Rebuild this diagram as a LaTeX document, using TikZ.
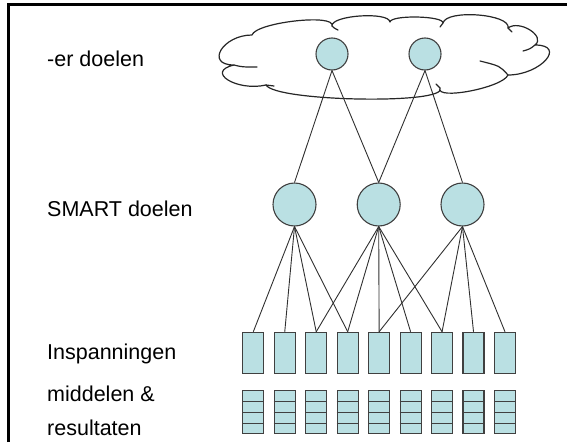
\documentclass[tikz,border=0pt]{standalone}
\usepackage{fontspec}
\setmainfont{Liberation Sans}
\usetikzlibrary{calc}
\definecolor{boxc}{HTML}{BAE0E3}
\definecolor{edgec}{HTML}{404040}
\definecolor{linkc}{HTML}{303030}
\begin{document}
\begin{tikzpicture}[x=1pt,y=-1pt,
  shapeline/.style={fill=boxc, draw=edgec, line width=1.1pt},
  topgoal/.style={circle, shapeline, inner sep=0pt, minimum size=32pt},
  smartgoal/.style={circle, shapeline, inner sep=0pt, minimum size=43pt},
  inspbox/.style={rectangle, shapeline, inner sep=0pt, minimum width=21pt, minimum height=41pt},
  resbox/.style={rectangle, shapeline, inner sep=0pt, minimum width=21pt, minimum height=43pt},
  link/.style={draw=linkc, line width=0.9pt},
  cloudline/.style={draw=black!85, line width=1.2pt, line join=round, line cap=round},
  lbl/.style={anchor=base west, inner sep=0pt, font=\fontsize{21.5}{26}\selectfont}
]
\useasboundingbox (0,0) rectangle (567,442);
% frame
\draw[line width=3pt] (8,442) -- (8,4) -- (567,4);

% cloud outline
\draw[cloudline, fill=white]
  (234,65) .. controls (204.7,65) and (222.7,35) .. (252,35)
  .. controls (256,22.3) and (336,13.3) .. (332,26)
  .. controls (330.7,15.3) and (388.7,11.3) .. (390,22)
  .. controls (390.7,14.7) and (443.7,15.7) .. (443,23)
  .. controls (446.3,9) and (511.3,14) .. (508,28)
  .. controls (519.3,19.3) and (546.3,36.3) .. (535,45)
  .. controls (567,45) and (540.7,75) .. (508,75)
  .. controls (502.7,87.7) and (434.7,100.7) .. (440,88)
  .. controls (449.3,104.7) and (275.3,101.7) .. (266,85)
  .. controls (236.7,91.7) and (204.7,71.7) .. cycle;
% cloud inner stubs
\draw[cloudline] (234,65) .. controls (242,67) .. (257,67);
\draw[cloudline] (266,85) .. controls (270,86) .. (274,86);
\draw[cloudline] (332,26) .. controls (334,28) .. (338,30);
\draw[cloudline] (443,23) .. controls (442,25) .. (440,27);
\draw[cloudline] (508,28) .. controls (510,30) .. (512,32);
\draw[cloudline] (535,45) .. controls (530,49) .. (523,51);
\draw[cloudline] (508,75) .. controls (500,66) .. (480,61);
\draw[cloudline] (440,88) .. controls (438,86) .. (436,84);

% labels
\node[lbl] (l1) at (47,66.7) {-er doelen};
\node[lbl] (l2) at (47,216.7) {SMART doelen};
\node[lbl] (l3) at (47,359) {Inspanningen};
\node[lbl] (l4) at (47,401.5) {middelen \&};
\node[lbl] (l5) at (47,435.5) {resultaten};

% goals
\node[topgoal] (t1) at (332,54) {};
\node[topgoal] (t2) at (425,54) {};
\node[smartgoal] (s1) at (294.5,204.5) {};
\node[smartgoal] (s2) at (378.7,204.5) {};
\node[smartgoal] (s3) at (462.5,204.5) {};

% boxes
\foreach \i in {1,...,9} {
  \node[inspbox] (b\i) at ({253.3+31.46*(\i-1)},352.8) {};
  \node[resbox] (r\i) at ({253.3+31.46*(\i-1)},412.3) {};
  \foreach \f in {0.25,0.5,0.75}
    \draw[edgec, line width=1.1pt] ($(r\i.north west)!\f!(r\i.south west)$) -- ($(r\i.north east)!\f!(r\i.south east)$);
}

% connectors
\draw[link] (t1.south) -- (s1.north);
\draw[link] (t1.south) -- (s2.north);
\draw[link] (t2.south) -- (s2.north);
\draw[link] (t2.south) -- (s3.north);
\foreach \j in {1,2,3,4} \draw[link] (s1.south) -- (b\j.north);
\foreach \j in {3,4,5,6,7} \draw[link] (s2.south) -- (b\j.north);
\foreach \j in {5,7,8,9} \draw[link] (s3.south) -- (b\j.north);
\end{tikzpicture}
\end{document}
